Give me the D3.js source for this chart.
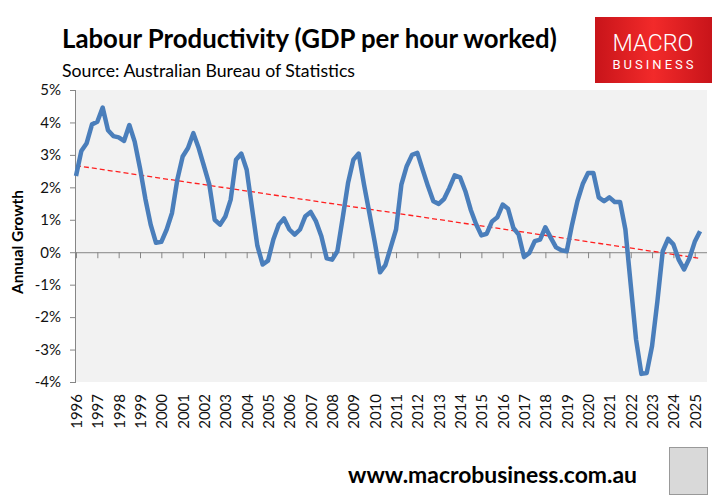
<!DOCTYPE html>
<html>
<head>
<meta charset="utf-8">
<script src="https://cdn.jsdelivr.net/npm/d3@7"></script>
<style>
  html, body { margin: 0; padding: 0; background: #fff; }
  svg { display: block; }
</style>
</head>
<body>
<div id="chart"></div>
<script>
// Labour productivity, annual growth (%), quarterly from 1996
const years = d3.range(1996, 2026);
const yTicks = [5, 4, 3, 2, 1, 0, -1, -2, -3, -4];
const growth = [
  2.35, 3.12, 3.36, 3.94, 4.02, 4.46, 3.76, 3.58, 3.54, 3.43,
  3.92, 3.41, 2.59, 1.65, 0.85, 0.29, 0.32, 0.70, 1.21, 2.24,
  2.95, 3.21, 3.67, 3.21, 2.65, 2.08, 1.00, 0.85, 1.10, 1.62,
  2.85, 3.04, 2.54, 1.36, 0.20, -0.38, -0.26, 0.39, 0.85, 1.04,
  0.70, 0.54, 0.70, 1.11, 1.24, 0.95, 0.49, -0.19, -0.23, 0.03,
  1.06, 2.13, 2.85, 3.04, 2.08, 1.21, 0.32, -0.62, -0.40, 0.15,
  0.70, 2.08, 2.65, 3.00, 3.06, 2.54, 2.03, 1.57, 1.49, 1.64,
  1.98, 2.37, 2.31, 1.88, 1.31, 0.87, 0.52, 0.57, 0.95, 1.08,
  1.47, 1.34, 0.75, 0.54, -0.15, -0.02, 0.34, 0.39, 0.77, 0.45,
  0.15, 0.06, 0.03, 0.85, 1.57, 2.10, 2.44, 2.44, 1.69, 1.57,
  1.69, 1.55, 1.55, 0.70, -1.00, -2.69, -3.75, -3.72, -2.89, -1.51,
  0.03, 0.41, 0.24, -0.23, -0.53, -0.19, 0.32, 0.65
];
// linear trend as drawn (first and last quarter)
const trend = [2.67, -0.19];

const W = 724, H = 499;
const plot = { left: 76, right: 707, top: 90, bottom: 382 };
const font = 'Lato, "Open Sans", sans-serif';

const svg = d3.select('#chart').append('svg')
  .attr('width', W).attr('height', H);

const x = d3.scaleLinear()
  .domain([0, 118.3])
  .range([plot.left, plot.right]);

const y = d3.scaleLinear()
  .domain([-4, 5])
  .range([plot.bottom, plot.top]);

// fit a text to a given width by changing its font size
function fitWidth(sel, size, target) {
  const w = sel.node().getComputedTextLength();
  sel.style('font-size', (size * target / w).toFixed(2) + 'px');
}

// Plot background
svg.append('rect')
  .attr('x', plot.left).attr('y', plot.top)
  .attr('width', plot.right - plot.left).attr('height', plot.bottom - plot.top)
  .attr('fill', '#f2f2f2');

// Left axis
svg.append('g')
  .attr('transform', `translate(${plot.left},0)`)
  .call(d3.axisLeft(y).tickValues(yTicks).tickSize(6).tickPadding(9).tickFormat(d => d + '%'))
  .call(g => g.select('.domain').attr('stroke', '#868686').attr('d', `M-0.5,${plot.top}V${plot.bottom}`))
  .call(g => g.selectAll('line').attr('stroke', '#868686'))
  .call(g => g.selectAll('text').style('font-family', font).style('font-size', '15px').attr('fill', '#111'));

// Zero line with year ticks
svg.append('g')
  .attr('transform', `translate(0,${y(0)})`)
  .call(d3.axisBottom(x).tickValues(years.map((d, i) => i * 4)).tickSize(6).tickFormat(''))
  .call(g => g.select('.domain').attr('stroke', '#868686').attr('d', `M${plot.left},0.5H${plot.right}`))
  .call(g => g.selectAll('line').attr('stroke', '#868686'));

// Year labels below the plot
svg.append('g')
  .selectAll('text')
  .data(years)
  .join('text')
  .attr('transform', (d, i) => `translate(${x(i * 4) + 6},${plot.bottom + 12}) rotate(-90)`)
  .attr('text-anchor', 'end')
  .style('font-family', font).style('font-size', '15px').attr('fill', '#111')
  .text(d => d);

// Trend line
svg.append('line')
  .attr('x1', x(0)).attr('y1', y(trend[0]))
  .attr('x2', x(growth.length - 1)).attr('y2', y(trend[1]))
  .attr('stroke', '#ff2020').attr('stroke-width', 1.3)
  .attr('stroke-dasharray', '5,3');

// Growth line
svg.append('path')
  .datum(growth)
  .attr('fill', 'none')
  .attr('stroke', '#4a7ebb')
  .attr('stroke-width', 4.5)
  .attr('stroke-linejoin', 'round')
  .attr('d', d3.line().x((d, i) => x(i)).y(d => y(d)));

// Axis title
const yTitle = svg.append('text')
  .attr('transform', `translate(23,${(plot.top + plot.bottom) / 2 + 6}) rotate(-90)`)
  .attr('text-anchor', 'middle')
  .style('font-family', font).style('font-size', '15px').style('font-weight', '700')
  .text('Annual Growth');
fitWidth(yTitle, 15, 104);

// Titles
const title = svg.append('text')
  .attr('x', 62).attr('y', 48)
  .style('font-family', font).style('font-size', '26px').style('font-weight', '700')
  .text('Labour Productivity (GDP per hour worked)');
fitWidth(title, 26, 495);

const sub = svg.append('text')
  .attr('x', 62).attr('y', 77)
  .style('font-family', font).style('font-size', '17px')
  .text('Source: Australian Bureau of Statistics');
fitWidth(sub, 17, 293);

// Logo
const grad = svg.append('defs').append('linearGradient').attr('id', 'logoGrad');
grad.append('stop').attr('offset', '0%').attr('stop-color', '#c8141a');
grad.append('stop').attr('offset', '50%').attr('stop-color', '#f22a2a');
grad.append('stop').attr('offset', '100%').attr('stop-color', '#c8141a');
svg.append('rect')
  .attr('x', 595).attr('y', 17).attr('width', 117).attr('height', 66)
  .attr('fill', 'url(#logoGrad)');
svg.append('text')
  .attr('x', 653).attr('y', 51).attr('text-anchor', 'middle')
  .attr('textLength', 81).attr('lengthAdjust', 'spacingAndGlyphs')
  .style('font-family', 'Roboto, sans-serif').style('font-size', '24px').style('font-weight', '300')
  .attr('fill', '#fff').text('MACRO');
svg.append('text')
  .attr('x', 653).attr('y', 69).attr('text-anchor', 'middle')
  .attr('textLength', 81).attr('lengthAdjust', 'spacing')
  .style('font-family', 'Roboto, sans-serif').style('font-size', '13px').style('font-weight', '400')
  .attr('fill', '#fff').text('BUSINESS');

// Footer
const foot = svg.append('text')
  .attr('x', 348).attr('y', 483)
  .style('font-family', font).style('font-size', '20px').style('font-weight', '700')
  .text('www.macrobusiness.com.au');
fitWidth(foot, 20, 289);

// Wolf badge placeholder
svg.append('rect')
  .attr('x', 669.5).attr('y', 447.5).attr('width', 38).attr('height', 47)
  .attr('fill', '#d9d9d9').attr('stroke', '#999');
</script>
</body>
</html>
